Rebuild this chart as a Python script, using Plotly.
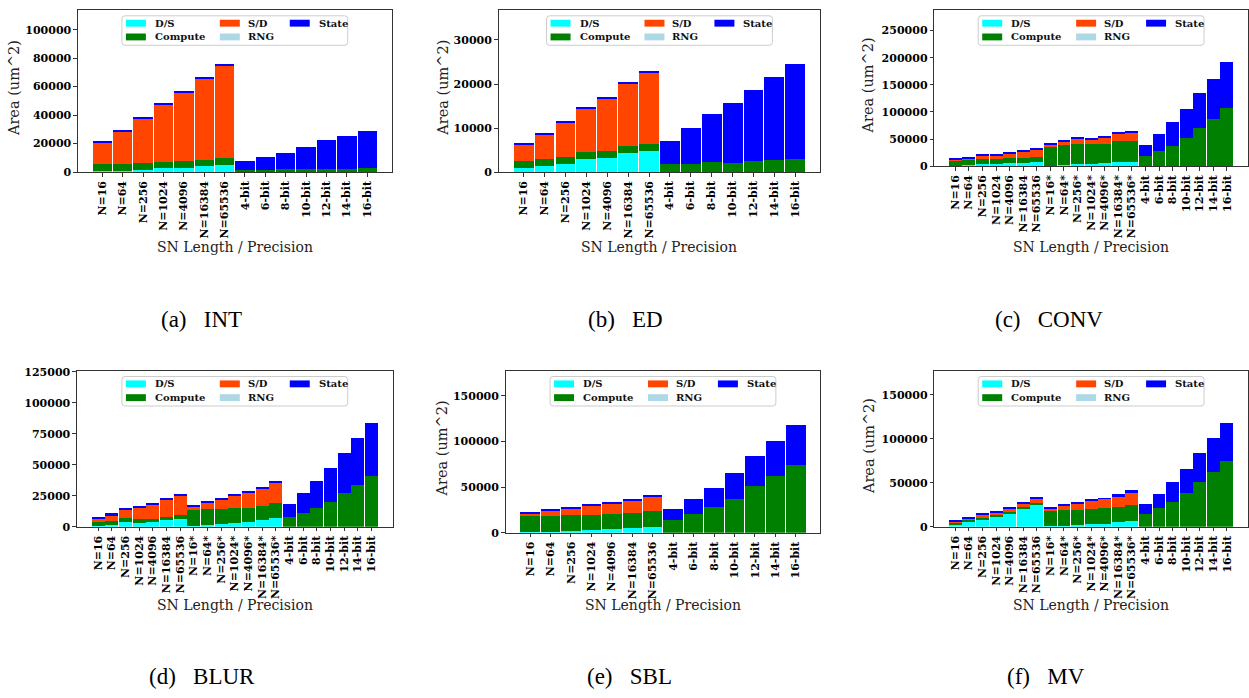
import plotly.graph_objects as go

W, H = 1249, 698

# ---- category labels -------------------------------------------------------
N_LABELS = ["N=16", "N=64", "N=256", "N=1024", "N=4096", "N=16384", "N=65536"]
STAR_LABELS = ["N=16*", "N=64*", "N=256*", "N=1024*", "N=4096*", "N=16384*", "N=65536*"]
BIT_LABELS = ["4-bit", "6-bit", "8-bit", "10-bit", "12-bit", "14-bit", "16-bit"]

CATS_SHORT = N_LABELS + BIT_LABELS
CATS_LONG = N_LABELS + STAR_LABELS + BIT_LABELS

# ---- area breakdown per benchmark (um^2) ------------------------------------
# INT
int_ds = [1000, 900, 1600, 3000, 3000, 4400, 5100, 0, 0, 0, 0, 0, 0, 0]
int_compute = [4500, 4600, 4600, 3900, 4600, 3900, 4800, 1400, 1400, 2100, 2100, 2100, 2100, 3000]
int_sd = [15200, 23000, 31700, 40200, 48300, 57200, 64600, 0, 0, 0, 0, 0, 0, 0]
int_rng = [0] * 14
int_state = [700, 700, 700, 1400, 700, 700, 1400, 6200, 9200, 11000, 15800, 20200, 23000, 25500]

# ED
ed_ds = [950, 1400, 1850, 2950, 3200, 4300, 4750, 0, 0, 0, 0, 0, 0, 0]
ed_compute = [1500, 1550, 1550, 1500, 1500, 1550, 1700, 1800, 1800, 2250, 2000, 2450, 2700, 2900]
ed_sd = [3800, 5700, 7950, 9900, 12000, 14200, 16100, 0, 0, 0, 0, 0, 0, 0]
ed_rng = [0] * 14
ed_state = [250, 250, 250, 300, 300, 450, 450, 5350, 8250, 10950, 13650, 16100, 19000, 21650]

# CONV
conv_ds = [600, 1800, 3600, 3600, 5400, 5400, 7200,
           600, 1800, 3600, 3600, 5400, 7200, 7200,
           0, 0, 0, 0, 0, 0, 0]
conv_compute = [9100, 9100, 9100, 9100, 9100, 9100, 9100,
                35600, 38100, 38100, 38100, 36300, 39900, 39900,
                18700, 27200, 38000, 52500, 70700, 87000, 106900]
conv_sd = [3000, 4200, 7200, 7400, 9100, 12700, 14500,
           3700, 5400, 9000, 7200, 10800, 12700, 14500,
           0, 0, 0, 0, 0, 0, 0]
conv_rng = [0] * 21
conv_state = [1200, 1200, 1800, 1600, 1800, 1800, 1800,
              1800, 1800, 1800, 1800, 1800, 1800, 1800,
              21200, 32600, 43500, 52600, 63400, 74200, 85100]

# BLUR
blur_ds = [1000, 1600, 4000, 3200, 4000, 5300, 6100,
           800, 1300, 2100, 3200, 4000, 5300, 6900,
           0, 0, 0, 0, 0, 0, 0]
blur_compute = [3000, 3200, 2900, 2900, 2100, 2400, 3200,
                12400, 12700, 11900, 12400, 11600, 11900, 12700,
                7700, 11100, 15600, 20400, 27500, 33900, 41000]
blur_sd = [2900, 4700, 7100, 9500, 11900, 14300, 15900,
           3500, 5600, 8000, 9600, 12700, 14300, 16700,
           0, 0, 0, 0, 0, 0, 0]
blur_rng = [0] * 21
blur_state = [800, 1400, 800, 800, 800, 800, 1300,
              1300, 800, 800, 800, 800, 800, 800,
              11100, 16400, 21500, 27000, 31800, 37300, 42900]

# SBL
sbl_ds = [1100, 1100, 2200, 3200, 4300, 5400, 6500, 0, 0, 0, 0, 0, 0, 0]
sbl_compute = [16900, 16900, 16900, 15900, 15800, 15800, 16900,
               13700, 20100, 27700, 37400, 51400, 62200, 74100]
sbl_sd = [3200, 6500, 7500, 10800, 11900, 14100, 16200, 0, 0, 0, 0, 0, 0, 0]
sbl_rng = [0] * 14
sbl_state = [1500, 1000, 1100, 1000, 1100, 1000, 2100,
             11800, 17300, 21600, 28100, 32400, 37800, 44200]

# MV
mv_ds = [3400, 6700, 9000, 12300, 15700, 20100, 24600,
         700, 700, 1900, 3400, 3400, 5600, 6700,
         0, 0, 0, 0, 0, 0, 0]
mv_compute = [2200, 1100, 1100, 1100, 1100, 2300, 2300,
              17200, 18300, 17100, 16700, 17900, 16800, 17900,
              14600, 21300, 28000, 38100, 51100, 62700, 75000]
mv_sd = [1100, 2300, 4500, 3400, 4500, 4800, 5600,
         3400, 5600, 7900, 10100, 10800, 13000, 15300,
         0, 0, 0, 0, 0, 0, 0]
mv_rng = [0] * 21
mv_state = [1100, 1100, 1100, 1100, 1800, 1500, 1800,
            1100, 1100, 1100, 1100, 1100, 1500, 1500,
            11100, 15600, 22400, 27900, 32900, 38000, 43300]

SERIES = ["D/S", "Compute", "S/D", "RNG", "State"]
COLORS = {"D/S": "#00FFFF", "Compute": "#008000", "S/D": "#FF4500",
          "RNG": "#ADD8E6", "State": "#0000FF"}

# panel: caption, categories, stacked series, tick step, frame box (px: left, right, top, bottom),
#        y-title x position, caption position
PANELS = [
    dict(name="(a)", title="INT", cats=CATS_SHORT,
         data=[int_ds, int_compute, int_sd, int_rng, int_state], dtick=20000,
         box=(78, 392, 5, 170), ytitle_x=14, cap=(202, 320)),
    dict(name="(b)", title="ED", cats=CATS_SHORT,
         data=[ed_ds, ed_compute, ed_sd, ed_rng, ed_state], dtick=10000,
         box=(499, 821, 5, 170), ytitle_x=443, cap=(626, 320)),
    dict(name="(c)", title="CONV", cats=CATS_LONG,
         data=[conv_ds, conv_compute, conv_sd, conv_rng, conv_state], dtick=50000,
         box=(935, 1249, 5, 164), ytitle_x=869, cap=(1050, 320)),
    dict(name="(d)", title="BLUR", cats=CATS_LONG,
         data=[blur_ds, blur_compute, blur_sd, blur_rng, blur_state], dtick=25000,
         box=(77, 393, 372, 531), ytitle_x=None, cap=(202, 683)),
    dict(name="(e)", title="SBL", cats=CATS_SHORT,
         data=[sbl_ds, sbl_compute, sbl_sd, sbl_rng, sbl_state], dtick=50000,
         box=(506, 821, 372, 537), ytitle_x=442, cap=(630, 683)),
    dict(name="(f)", title="MV", cats=CATS_LONG,
         data=[mv_ds, mv_compute, mv_sd, mv_rng, mv_state], dtick=50000,
         box=(935, 1249, 372, 531), ytitle_x=869, cap=(1047, 683)),
]

SERIF = "DejaVu Serif"
CAPTION_FONT = "Liberation Serif"
FRAME = "#333333"


def fx(px):
    return px / W


def fy(py):
    return 1 - py / H


def rounded_rect(x0, y0, x1, y1, r):
    # path in paper coordinates from pixel corners
    pts = [
        f"M{fx(x0 + r)},{fy(y0)}", f"L{fx(x1 - r)},{fy(y0)}",
        f"Q{fx(x1)},{fy(y0)} {fx(x1)},{fy(y0 + r)}", f"L{fx(x1)},{fy(y1 - r)}",
        f"Q{fx(x1)},{fy(y1)} {fx(x1 - r)},{fy(y1)}", f"L{fx(x0 + r)},{fy(y1)}",
        f"Q{fx(x0)},{fy(y1)} {fx(x0)},{fy(y1 - r)}", f"L{fx(x0)},{fy(y0 + r)}",
        f"Q{fx(x0)},{fy(y0)} {fx(x0 + r)},{fy(y0)}", "Z",
    ]
    return " ".join(pts)


fig = go.Figure()
shapes, annotations = [], []

for i, p in enumerate(PANELS, start=1):
    xa, ya = f"x{i}", f"y{i}"
    for name, vals in zip(SERIES, p["data"]):
        fig.add_trace(go.Bar(
            x=p["cats"], y=vals, name=name, xaxis=xa, yaxis=ya,
            marker=dict(color=COLORS[name], line=dict(width=0)),
            showlegend=False,
        ))

    n = len(p["cats"])
    totals = [sum(col) for col in zip(*p["data"])]
    pad = 0.05 * n
    L, R, T, B = p["box"]
    axis_common = dict(showline=True, mirror=True, linecolor=FRAME, linewidth=1,
                       showgrid=False, zeroline=False, ticks="outside", ticklen=3.5,
                       tickcolor=FRAME, tickwidth=1,
                       tickfont=dict(family=SERIF, size=11, color="#000", weight="bold"))
    fig.layout[f"xaxis{i}"] = dict(
        domain=[fx(L), min(fx(R), 1.0)], anchor=ya, type="category",
        range=[-0.5 - pad, n - 0.5 + pad], tickangle=-90,
        tickmode="linear", tick0=0, dtick=1, **axis_common)
    fig.layout[f"yaxis{i}"] = dict(
        domain=[fy(B), fy(T)], anchor=xa, range=[0, 1.5 * max(totals)],
        dtick=p["dtick"], tickformat="d", **axis_common)

    # axis titles
    if p["ytitle_x"] is not None:
        annotations.append(dict(
            text="Area (um^2)", x=fx(p["ytitle_x"]), y=fy((T + B) / 2 - 3),
            xref="paper", yref="paper", textangle=-90, showarrow=False,
            xanchor="center", yanchor="middle",
            font=dict(family=SERIF, size=14.5, color="#222")))
    annotations.append(dict(
        text="SN Length / Precision", x=fx((L + R) / 2), y=fy(246 if T < 100 else 611),
        xref="paper", yref="paper", showarrow=False, xanchor="center", yanchor="middle",
        font=dict(family=SERIF, size=14, color="#222")))

    # caption
    cx, cy = p["cap"]
    annotations.append(dict(
        text=f"{p['name']}\u00a0\u00a0\u00a0{p['title']}", x=fx(cx), y=fy(cy),
        xref="paper", yref="paper", showarrow=False, xanchor="center", yanchor="middle",
        font=dict(family=CAPTION_FONT, size=23, color="#000")))

    # legend box (upper center)
    lw, lh = 226, 30
    lx0 = (L + R) / 2 - lw / 2
    ly0 = T + 6
    shapes.append(dict(type="path", path=rounded_rect(lx0, ly0, lx0 + lw, ly0 + lh, 3),
                       xref="paper", yref="paper", fillcolor="rgba(255,255,255,0.85)",
                       line=dict(color="#CCCCCC", width=1), layer="above"))
    entries = [("D/S", 0, 0), ("S/D", 1, 0), ("State", 2, 0),
               ("Compute", 0, 1), ("RNG", 1, 1)]
    sw_off = [4, 98, 168]
    tx_off = [31, 124, 195]
    row_c = [7.5, 21.5]
    for label, col, row in entries:
        yc = ly0 + row_c[row]
        shapes.append(dict(type="rect", xref="paper", yref="paper",
                           x0=fx(lx0 + sw_off[col]), x1=fx(lx0 + sw_off[col] + 20),
                           y0=fy(yc - 3.5), y1=fy(yc + 3.5),
                           fillcolor=COLORS[label], line=dict(width=0), layer="above"))
        annotations.append(dict(
            text=label, x=fx(lx0 + tx_off[col]), y=fy(yc), xref="paper", yref="paper",
            showarrow=False, xanchor="left", yanchor="middle",
            font=dict(family=SERIF, size=10, color="#111", weight="bold")))

fig.update_layout(
    width=W, height=H, margin=dict(l=0, r=0, t=0, b=0),
    paper_bgcolor="white", plot_bgcolor="white",
    barmode="stack", bargap=0.05,
    shapes=shapes, annotations=annotations, showlegend=False,
)

fig.write_html("out.html")
